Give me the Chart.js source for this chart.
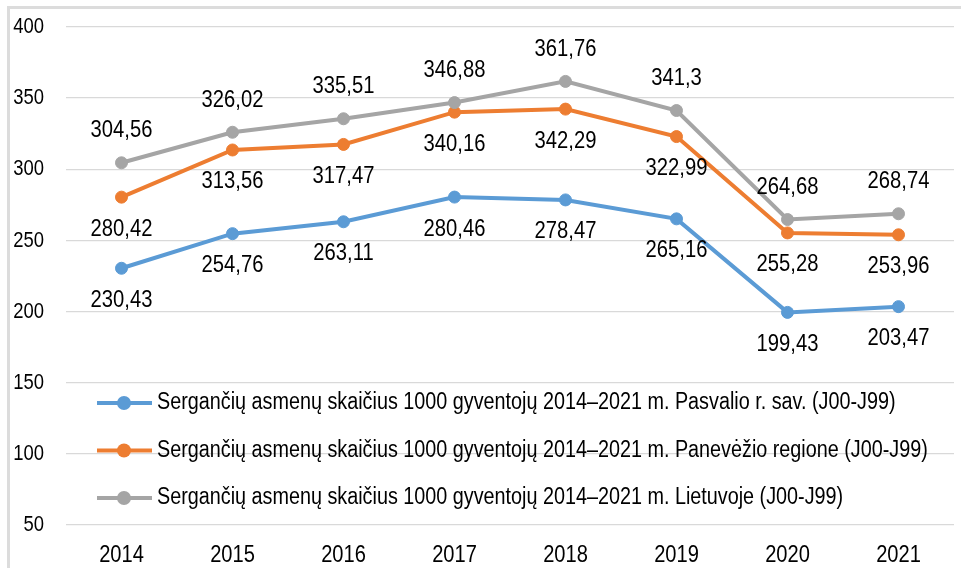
<!DOCTYPE html>
<html>
<head>
<meta charset="utf-8">
<script src="https://cdn.jsdelivr.net/npm/chart.js@4.4.1/dist/chart.umd.min.js"></script>
<style>
    body { margin: 0; background: #fff; }
    #wrap { position: relative; width: 961px; height: 568px; }
    #frame {
        position: absolute; left: 7px; top: 6px; right: 0; bottom: 0;
        border-left: 3px solid #dcdcdc; border-top: 3px solid #dcdcdc;
    }
    canvas { position: absolute; left: 0; top: 0; }
</style>
</head>
<body>
<div id="wrap">
    <div id="frame"></div>
    <canvas id="chart" width="961" height="568"></canvas>
</div>
<script>
// Chart data
const years = ['2014', '2015', '2016', '2017', '2018', '2019', '2020', '2021'];
const pasvalys = [230.43, 254.76, 263.11, 280.46, 278.47, 265.16, 199.43, 203.47];
const panevezys = [280.42, 313.56, 317.47, 340.16, 342.29, 322.99, 255.28, 253.96];
const lietuva = [304.56, 326.02, 335.51, 346.88, 361.76, 341.3, 264.68, 268.74];
const seriesNames = [
    'Sergančių asmenų skaičius 1000 gyventojų 2014–2021 m. Pasvalio r. sav. (J00-J99)',
    'Sergančių asmenų skaičius 1000 gyventojų 2014–2021 m. Panevėžio regione (J00-J99)',
    'Sergančių asmenų skaičius 1000 gyventojų 2014–2021 m. Lietuvoje (J00-J99)'
];
const yTicks = [50, 100, 150, 200, 250, 300, 350, 400];

// No narrow font installed, so text is squeezed horizontally to look like Arial Narrow
const FONT = "'Liberation Sans', Arial, sans-serif";
const TEXT_COLOR = '#000';
const colors = ['#5b9bd5', '#ed7d31', '#a5a5a5'];

function narrowText(ctx, text, x, y, size, squeeze, align) {
    ctx.save();
    ctx.font = `${size}px ${FONT}`;
    ctx.fillStyle = TEXT_COLOR;
    ctx.textAlign = align;
    ctx.textBaseline = 'middle';
    ctx.translate(x, y);
    ctx.scale(squeeze, 1);
    ctx.fillText(text, 0, 0);
    ctx.restore();
}

// Tick labels, placed by the chart's own scales
const tickLabels = {
    id: 'tickLabels',
    afterDraw(chart) {
        const ctx = chart.ctx;
        const xs = chart.scales.x;
        const ys = chart.scales.y;
        xs.ticks.forEach((t, i) => {
            narrowText(ctx, xs.getLabelForValue(t.value), xs.getPixelForTick(i), chart.chartArea.bottom + 30, 24.5, 0.82, 'center');
        });
        ys.ticks.forEach((t, i) => {
            narrowText(ctx, String(t.value), chart.chartArea.left - 22, ys.getPixelForTick(i), 22.5, 0.82, 'right');
        });
    }
};

// Value labels next to each point
const valueLabels = {
    id: 'valueLabels',
    afterDatasetsDraw(chart) {
        const ctx = chart.ctx;
        chart.data.datasets.forEach((ds, i) => {
            const shift = ds.labelSide === 'above' ? -32 : 32;
            chart.getDatasetMeta(i).data.forEach((pt, j) => {
                const text = String(ds.data[j]).replace('.', ',');
                narrowText(ctx, text, pt.x, pt.y + shift, 23.5, 0.86, 'center');
            });
        });
    }
};

// Legend drawn inside the plot area
const innerLegend = {
    id: 'innerLegend',
    afterDraw(chart) {
        const ctx = chart.ctx;
        chart.data.datasets.forEach((ds, i) => {
            const y = 403 + i * 47.5;
            ctx.save();
            ctx.strokeStyle = ds.borderColor;
            ctx.lineWidth = 4;
            ctx.beginPath();
            ctx.moveTo(97, y);
            ctx.lineTo(152, y);
            ctx.stroke();
            ctx.fillStyle = ds.borderColor;
            ctx.beginPath();
            ctx.arc(124, y, 7, 0, Math.PI * 2);
            ctx.fill();
            ctx.restore();
            narrowText(ctx, ds.label, 157, y, 23, 0.86, 'left');
        });
    }
};

function makeSet(label, data, color, side, order) {
    return {
        label: label,
        data: data,
        borderColor: color,
        backgroundColor: color,
        borderWidth: 4,
        pointRadius: 6,
        pointBorderWidth: 1,
        pointBackgroundColor: color,
        tension: 0,
        labelSide: side,
        order: order
    };
}

const ctx = document.getElementById('chart').getContext('2d');
new Chart(ctx, {
    type: 'line',
    data: {
        labels: years,
        datasets: [
            makeSet(seriesNames[0], pasvalys, colors[0], 'below', 2),
            makeSet(seriesNames[1], panevezys, colors[1], 'below', 1),
            makeSet(seriesNames[2], lietuva, colors[2], 'above', 0)
        ]
    },
    options: {
        responsive: false,
        devicePixelRatio: 1,
        animation: false,
        layout: { padding: { top: 27, right: 1, left: 0, bottom: 0 } },
        plugins: {
            legend: { display: false },
            tooltip: { enabled: false }
        },
        scales: {
            x: {
                offset: true,
                grid: { display: false },
                border: { display: false },
                ticks: { display: false },
                afterFit(scale) { scale.height = 43; }
            },
            y: {
                min: yTicks[0],
                max: yTicks[yTicks.length - 1],
                grid: { color: '#d9d9d9', lineWidth: 1.3, drawTicks: false },
                border: { display: false },
                ticks: { display: false, stepSize: 50 },
                afterFit(scale) { scale.width = 66; }
            }
        }
    },
    plugins: [valueLabels, innerLegend, tickLabels]
});
</script>
</body>
</html>
